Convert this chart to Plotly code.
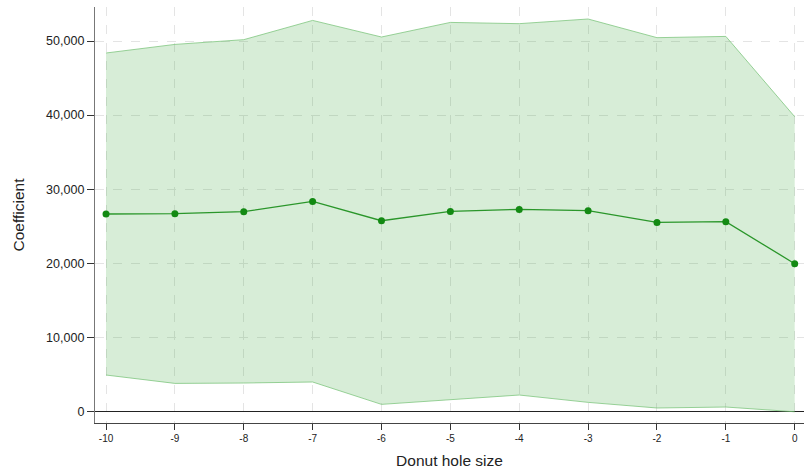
import plotly.graph_objects as go

# Donut hole size (number of excluded bins) and estimated coefficients
hole_size = [-10, -9, -8, -7, -6, -5, -4, -3, -2, -1, 0]
coef = [26650, 26690, 26960, 28350, 25740, 27000, 27270, 27090, 25510, 25610, 19940]
ci_upper = [48380, 49540, 50180, 52780, 50540, 52510, 52340, 52970, 50450, 50620, 39780]
ci_lower = [4910, 3780, 3830, 3970, 950, 1580, 2210, 1220, 460, 590, -50]

y_ticks = [0, 10000, 20000, 30000, 40000, 50000]
y_tick_text = ["0", "10,000", "20,000", "30,000", "40,000", "50,000"]

band_edge = "rgba(120,195,120,0.75)"
band_fill = "rgba(44,160,44,0.19)"
point_color = "#138a13"

fig = go.Figure()

# confidence band
fig.add_trace(go.Scatter(
    x=hole_size, y=ci_lower, mode="lines",
    line=dict(color=band_edge, width=1), showlegend=False, hoverinfo="skip",
))
fig.add_trace(go.Scatter(
    x=hole_size, y=ci_upper, mode="lines", fill="tonexty", fillcolor=band_fill,
    line=dict(color=band_edge, width=1), showlegend=False, hoverinfo="skip",
))

# point estimates
fig.add_trace(go.Scatter(
    x=hole_size, y=coef, mode="lines+markers",
    line=dict(color="#2a962a", width=1.3),
    marker=dict(color=point_color, size=7),
    showlegend=False,
))

fig.update_layout(
    width=804, height=474,
    margin=dict(l=95, r=0, t=7, b=51),
    paper_bgcolor="white", plot_bgcolor="white",
    font=dict(family="Liberation Sans, Arial, sans-serif", color="#222"),
    xaxis=dict(
        range=[-10.16, 0.135],
        tickmode="array", tickvals=hole_size,
        ticktext=[str(v) for v in hole_size],
        tickfont=dict(size=10, color="#222"),
        ticks="outside", ticklen=6, tickcolor="#333", tickwidth=1,
        showline=True, linecolor="#444", linewidth=1.3,
        showgrid=True, gridcolor="#e4e4e4", griddash="dash", gridwidth=1.3,
        zeroline=False,
        title=dict(text="Donut hole size", font=dict(size=15.5, color="#222"), standoff=11),
    ),
    yaxis=dict(
        range=[-1566, 54590],
        tickmode="array", tickvals=y_ticks, ticktext=y_tick_text,
        tickfont=dict(size=12.5, color="#222"),
        ticks="outside", ticklen=7, tickcolor="#333", tickwidth=1,
        showline=True, linecolor="#777", linewidth=1.3,
        showgrid=True, gridcolor="#e4e4e4", griddash="dash", gridwidth=1.3,
        zeroline=True, zerolinecolor="#222", zerolinewidth=1,
        title=dict(text="Coefficient", font=dict(size=15.5, color="#222"), standoff=17),
    ),
)

fig.write_html("out.html")
